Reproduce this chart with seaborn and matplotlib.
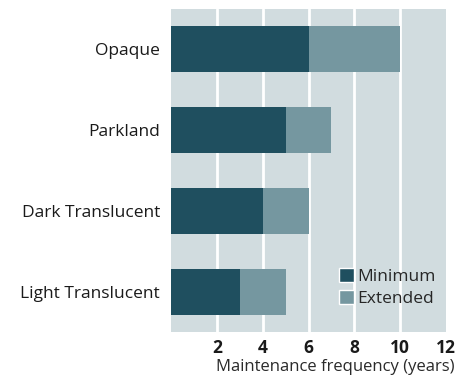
import matplotlib
matplotlib.use("Agg")
import matplotlib.pyplot as plt
import seaborn as sns
import pandas as pd
from matplotlib.patches import Patch

categories = ["Opaque", "Parkland", "Dark Translucent", "Light Translucent"]
minimum_years = [6, 5, 4, 3]
extended_years = [10, 7, 6, 5]
x_ticks = [2, 4, 6, 8, 10, 12]

df = pd.DataFrame({"category": categories,
                   "minimum": minimum_years,
                   "extended": extended_years})

sns.set_theme(style="white")
plt.rcParams["font.family"] = ["Open Sans", "DejaVu Sans"]

dark = "#1f4f5f"
light = "#7597a0"
panel = "#d1dcdf"

fig = plt.figure(figsize=(4.74, 3.76), dpi=100)
ax = fig.add_axes([0.361, 0.117, 0.580, 0.859])
ax.set_facecolor(panel)

# extended range drawn first, minimum on top of it
sns.barplot(data=df, y="category", x="extended", color=light, orient="h",
            width=0.57, saturation=1, linewidth=0, ax=ax, zorder=3)
sns.barplot(data=df, y="category", x="minimum", color=dark, orient="h",
            width=0.57, saturation=1, linewidth=0, ax=ax, zorder=4)

ax.set_xlim(0, 12)
ax.set_ylim(3.5, -0.5)
ax.set_xticks(x_ticks)
ax.set_xticklabels([str(t) for t in x_ticks], fontweight="bold", fontsize=12.5,
                   color="#1a1a1a")
ax.tick_params(axis="x", length=0, pad=5)
ax.tick_params(axis="y", length=0, pad=8, labelsize=12.5, labelcolor="#1a1a1a")

for t in x_ticks[:-1]:
    ax.axvline(t, color="white", lw=2, zorder=2)

for s in ax.spines.values():
    s.set_visible(False)

ax.set_ylabel("")
ax.set_xlabel("Maintenance frequency (years)", fontsize=12, color="#2a2a2a")
ax.xaxis.set_label_coords(1.03, -0.085)
ax.xaxis.label.set_horizontalalignment("right")

handles = [Patch(facecolor=dark, label="Minimum"),
           Patch(facecolor=light, label="Extended")]
ax.legend(handles=handles, loc="lower right", bbox_to_anchor=(1.0, 0.045),
          frameon=False, fontsize=12.5, handlelength=0.85, handleheight=0.85,
          handletextpad=0.2, labelspacing=0.3, borderaxespad=0.2)

fig.savefig("out.png", dpi=100)
